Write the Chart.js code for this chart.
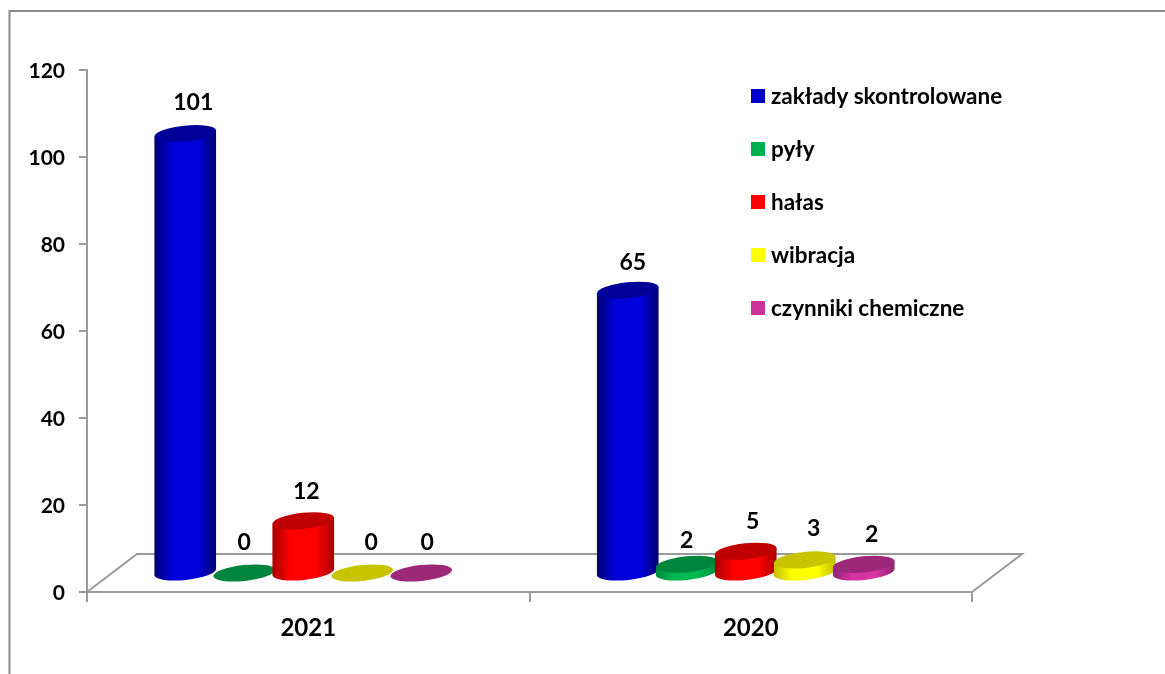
<!DOCTYPE html>
<html>
<head>
<meta charset="utf-8">
<title>Zakłady skontrolowane</title>
<script src="https://cdn.jsdelivr.net/npm/chart.js@4"></script>
<style>
    html, body { margin: 0; padding: 0; background: #fff; }
    canvas { display: block; }
</style>
</head>
<body>
<canvas id="myChart" width="1165" height="674"></canvas>
<script>
    // Define the data
    const years = ['2021', '2020'];
    const seriesNames = ['zakłady skontrolowane', 'pyły', 'hałas', 'wibracja', 'czynniki chemiczne'];
    const zaklady = [101, 65];
    const pyly = [0, 2];
    const halas = [12, 5];
    const wibracja = [0, 3];
    const chemiczne = [0, 2];
    const yTicks = [0, 20, 40, 60, 80, 100, 120];

    // Colors per series: side, dark edge of the side, top of the cylinder
    const sideColors = ['#0000DC', '#00B850', '#FF0000', '#FFFF00', '#D433A0'];
    const edgeColors = ['#00006E', '#008A40', '#A80000', '#C0BE00', '#8E2470'];
    const topColors = ['#000099', '#00853E', '#C00000', '#C8C400', '#9B2878'];
    const legendColors = ['#0000CC', '#00B050', '#FF0000', '#FFFF00', '#CC3399'];

    const gray = '#9A9A9A';
    const fontName = 'Lato, Carlito, Calibri, sans-serif';

    // Labels were moved by hand in the original, so they sit a bit off their bars
    const labelShiftX = [[8, 5], [0, 0], [3, 7], [9, 9], [6, 8]];
    const labelShiftY = [[-31, -28], [-30, -24], [-29, -30], [-30, -31], [-30, -30]];

    // The bars stand in the middle of the 3D floor, not on the front axis
    const floorDepthX = 50;
    const floorDepthY = 38;
    const barShiftX = -5;
    const barShiftY = -19;
    const radiusY = 8;
    const tilt = -6 * Math.PI / 180;

    function drawCylinder(ctx, bar, i) {
        const cx = bar.x + barShiftX;
        const topY = bar.y + barShiftY;
        const baseY = bar.base + barShiftY;
        const rx = bar.width / 2 + 1.5;
        const tipX = rx * Math.cos(tilt);
        const tipY = rx * Math.sin(tilt);

        if (baseY - topY > 0.5) {
            const grad = ctx.createLinearGradient(cx - rx, 0, cx + rx, 0);
            grad.addColorStop(0, edgeColors[i]);
            grad.addColorStop(0.3, sideColors[i]);
            grad.addColorStop(0.7, sideColors[i]);
            grad.addColorStop(1, edgeColors[i]);
            ctx.fillStyle = grad;
            ctx.beginPath();
            ctx.moveTo(cx - tipX, topY - tipY);
            ctx.lineTo(cx + tipX, topY + tipY);
            ctx.ellipse(cx, baseY, rx, radiusY, tilt, 0, Math.PI);
            ctx.closePath();
            ctx.fill();
        }

        ctx.fillStyle = topColors[i];
        ctx.beginPath();
        ctx.ellipse(cx, topY, rx, radiusY, tilt, 0, Math.PI * 2);
        ctx.fill();
    }

    const cylinderPlugin = {
        id: 'cylinders',
        beforeDraw(chart) {
            // Outer frame, cut off by the picture on the right and at the bottom
            const ctx = chart.ctx;
            ctx.save();
            ctx.strokeStyle = '#8A8A8A';
            ctx.lineWidth = 2;
            ctx.beginPath();
            ctx.moveTo(9.5, 674);
            ctx.lineTo(9.5, 11);
            ctx.lineTo(1165, 11);
            ctx.stroke();
            ctx.restore();
        },
        beforeDatasetsDraw(chart) {
            // Floor of the 3D box
            const ctx = chart.ctx;
            const a = chart.chartArea;
            ctx.save();
            ctx.strokeStyle = gray;
            ctx.lineWidth = 2;
            ctx.beginPath();
            ctx.moveTo(a.left, a.bottom);
            ctx.lineTo(a.left + floorDepthX, a.bottom - floorDepthY);
            ctx.lineTo(a.right + floorDepthX, a.bottom - floorDepthY);
            ctx.lineTo(a.right, a.bottom);
            ctx.stroke();
            ctx.restore();
        },
        beforeDatasetDraw() {
            // Skip the flat bars, the cylinders are drawn in afterDatasetsDraw
            return false;
        },
        afterDatasetsDraw(chart) {
            const ctx = chart.ctx;
            ctx.save();
            chart.data.datasets.forEach((ds, i) => {
                chart.getDatasetMeta(i).data.forEach(bar => drawCylinder(ctx, bar, i));
            });

            // Value labels
            ctx.fillStyle = '#000';
            ctx.font = 'bold 23px ' + fontName;
            ctx.textAlign = 'center';
            ctx.textBaseline = 'middle';
            chart.data.datasets.forEach((ds, i) => {
                chart.getDatasetMeta(i).data.forEach((bar, j) => {
                    const x = bar.x + barShiftX + labelShiftX[i][j];
                    const y = bar.y + barShiftY + labelShiftY[i][j];
                    ctx.fillText(String(ds.data[j]), x, y);
                });
            });

            // Legend
            ctx.font = 'bold 22.5px ' + fontName;
            ctx.textAlign = 'left';
            chart.data.datasets.forEach((ds, i) => {
                const y = 96 + i * 53;
                ctx.fillStyle = legendColors[i];
                ctx.fillRect(751, y - 7, 14, 14);
                ctx.fillStyle = '#000';
                ctx.fillText(ds.label, 771, y + 1);
            });
            ctx.restore();
        }
    };

    const allValues = [zaklady, pyly, halas, wibracja, chemiczne];

    // Create the Chart.js chart
    const ctx = document.getElementById('myChart').getContext('2d');
    const myChart = new Chart(ctx, {
        type: 'bar',
        data: {
            labels: years,
            datasets: seriesNames.map((name, i) => ({
                label: name,
                data: allValues[i],
                backgroundColor: legendColors[i],
                barPercentage: 1,
                categoryPercentage: 0.6667
            }))
        },
        options: {
            responsive: false,
            animation: false,
            layout: { padding: { top: 70, right: 193, left: 0, bottom: 0 } },
            plugins: {
                legend: { display: false },
                tooltip: { enabled: false }
            },
            scales: {
                x: {
                    afterFit: scale => { scale.height = 82; },
                    border: { color: gray, width: 2 },
                    grid: { drawOnChartArea: false, color: gray, lineWidth: 2, tickLength: 10 },
                    ticks: {
                        color: '#000',
                        padding: 12,
                        font: { family: fontName, size: 24, weight: 'bold' }
                    }
                },
                y: {
                    min: 0,
                    max: yTicks[yTicks.length - 1],
                    afterFit: scale => { scale.width = 87; },
                    border: { color: gray, width: 2 },
                    grid: { drawOnChartArea: false, color: gray, lineWidth: 2, tickLength: 8 },
                    afterBuildTicks: scale => { scale.ticks = yTicks.map(v => ({ value: v })); },
                    ticks: {
                        color: '#000',
                        padding: 14,
                        labelOffset: 1,
                        font: { family: fontName, size: 21, weight: 'bold' }
                    }
                }
            }
        },
        plugins: [cylinderPlugin]
    });
</script>
</body>
</html>
